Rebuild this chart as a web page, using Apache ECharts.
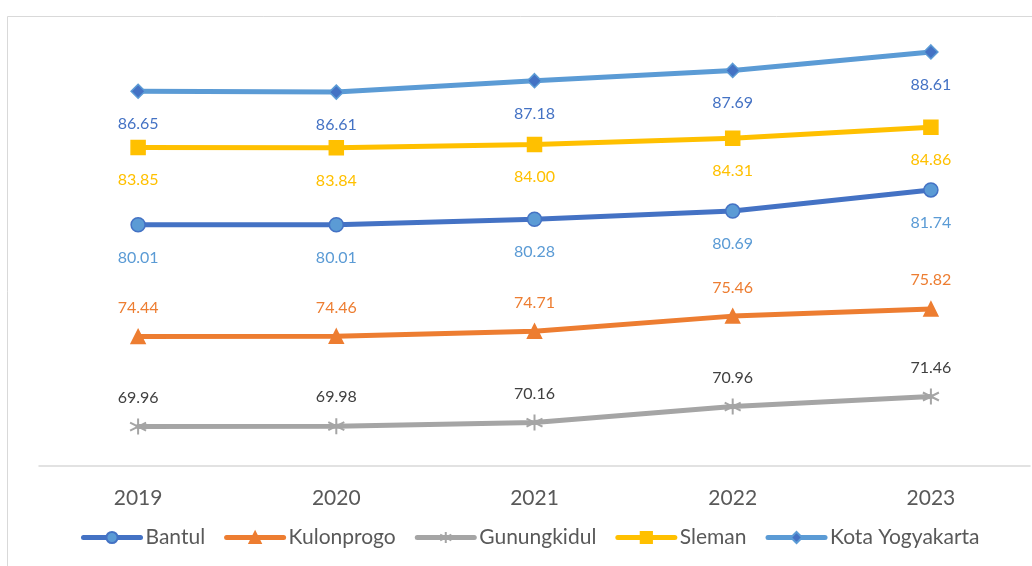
<!DOCTYPE html>
<html>
<head>
<meta charset="utf-8">
<script src="https://cdn.jsdelivr.net/npm/echarts@6/dist/echarts.min.js"></script>
<style>
  html, body { margin: 0; padding: 0; background: #fff; }
  #chart { width: 1032px; height: 566px; }
</style>
</head>
<body>
<div id="chart"></div>
<script>
// data
const years = ["2019", "2020", "2021", "2022", "2023"];
const bantul = [80.01, 80.01, 80.28, 80.69, 81.74];
const kulonprogo = [74.44, 74.46, 74.71, 75.46, 75.82];
const gunungkidul = [69.96, 69.98, 70.16, 70.96, 71.46];
const sleman = [83.85, 83.84, 84.00, 84.31, 84.86];
const kota = [86.65, 86.61, 87.18, 87.69, 88.61];

const font = "Lato, 'Open Sans', sans-serif";
const star = "path://M0,-6L0,6M-5.2,-3L5.2,3M-5.2,3L5.2,-3";

// builds one line series
function makeLine(name, data, lineColor, symbol, symColor, labelColor, pos, dist, extra) {
    let s = {
        name: name,
        type: "line",
        data: data,
        symbol: symbol,
        symbolSize: 14,
        lineStyle: { color: lineColor, width: 5, cap: "round" },
        itemStyle: { color: symColor, borderColor: lineColor, borderWidth: 1.5 },
        label: {
            show: true,
            position: pos,
            distance: dist,
            color: labelColor,
            fontFamily: font,
            fontSize: 16,
            formatter: p => p.value.toFixed(2)
        },
        emphasis: { disabled: true },
        animation: false
    };
    return Object.assign(s, extra || {});
}

let chart = echarts.init(document.querySelector("#chart"));

let option = {
    backgroundColor: "#fff",
    graphic: [{
        type: "rect",
        shape: { x: 7.5, y: 16.5, width: 1100, height: 700 },
        style: { fill: "none", stroke: "#d9d9d9", lineWidth: 1 },
        silent: true
    }],
    grid: { left: 39, right: 2, top: 24, bottom: 100 },
    legend: {
        bottom: 13,
        left: 76,
        itemWidth: 57,
        itemHeight: 14,
        itemGap: 19,
        lineStyle: { width: 5, cap: "round" },
        textStyle: { color: "#595959", fontSize: 21, fontFamily: font },
        data: ["Bantul", "Kulonprogo", "Gunungkidul", "Sleman", "Kota Yogyakarta"]
    },
    xAxis: {
        type: "category",
        data: years,
        boundaryGap: true,
        axisLine: { lineStyle: { color: "#d9d9d9", width: 1.5 } },
        axisTick: { show: false },
        axisLabel: { color: "#595959", fontSize: 21, fontFamily: font, margin: 22 }
    },
    yAxis: {
        type: "value",
        min: 68,
        max: 90,
        interval: 2,
        show: false,
        splitLine: { show: false }
    },
    series: [
        makeLine("Bantul", bantul, "#4472C4", "circle", "#5B9BD5", "#5B9BD5", "bottom", 17),
        makeLine("Kulonprogo", kulonprogo, "#ED7D31", "triangle", "#ED7D31", "#ED7D31", "top", 13),
        makeLine("Gunungkidul", gunungkidul, "#A5A5A5", star, "#A5A5A5", "#404040", "top", 12,
            { symbolSize: 16, itemStyle: { color: "#A5A5A5", borderColor: "#A5A5A5", borderWidth: 2 } }),
        makeLine("Sleman", sleman, "#FFC000", "rect", "#FFC000", "#FFC000", "bottom", 17),
        makeLine("Kota Yogyakarta", kota, "#5B9BD5", "diamond", "#4472C4", "#4472C4", "bottom", 17)
    ]
};

chart.setOption(option);
</script>
</body>
</html>
